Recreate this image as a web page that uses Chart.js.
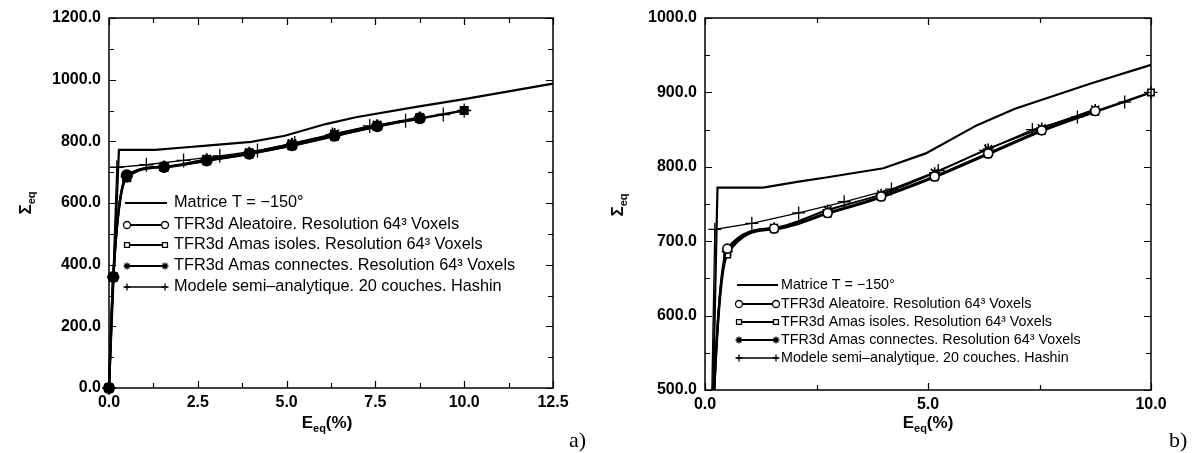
<!DOCTYPE html>
<html>
<head>
<meta charset="utf-8">
<script src="https://cdn.jsdelivr.net/npm/chart.js@4"></script>
<style>
  body { margin: 0; background: #fff; }
  #wrap { position: relative; width: 1192px; height: 453px; }
  .panel { position: absolute; top: 0; }
</style>
</head>
<body>
<div id="wrap">
  <div class="panel" style="left:0"><canvas id="chartA" width="600" height="453"></canvas></div>
  <div class="panel" style="left:600px"><canvas id="chartB" width="592" height="453"></canvas></div>
</div>
<script>
// strain (%) / stress values
const matriceX = [0, 0.28, 1.3, 2.1, 2.75, 4.0, 4.95, 6.1, 6.95, 8.65, 10.0, 12.5];
const matriceY = [0, 772, 772, 780, 786, 798, 818, 856, 878, 912, 937, 987];

const aleatoireX = [0, 0.12, 0.5, 1.55, 2.75, 3.95, 5.15, 6.35, 7.55, 8.75];
const aleatoireY = [0, 360, 690, 717, 738, 760, 787, 818, 849, 875];

const isolesX = [0, 0.12, 0.5, 1.55, 2.75, 3.95, 5.15, 6.35, 7.55, 8.75, 10.0];
const isolesY = [0, 360, 682, 716, 737, 759, 786, 817, 848, 874, 900];

const connectesX = [0, 0.12, 0.5, 1.55, 2.75, 3.95, 5.15, 6.35, 7.55, 8.75];
const connectesY = [0, 360, 686, 718, 742, 763, 792, 824, 852, 877];

const hashinX = [0, 0.22, 1.05, 2.1, 3.12, 4.18, 5.23, 6.29, 7.34, 8.35, 9.41, 10.0];
const hashinY = [0, 716, 724, 738, 753, 770, 795, 822, 850, 867, 887, 900];

const seriesLabels = [
    "Matrice T = \u2212150\u00B0",
    "TFR3d Aleatoire. Resolution 64\u00B3 Voxels",
    "TFR3d Amas isoles. Resolution 64\u00B3 Voxels",
    "TFR3d Amas connectes. Resolution 64\u00B3 Voxels",
    "Modele semi\u2013analytique. 20 couches. Hashin"
];

// axis ranges: [min, max, tick step, label step]
const axisA_x = [0, 12.5, 1.25, 2.5];
const axisA_y = [0, 1200, 100, 200];
const axisB_x = [0, 10, 2.5, 5];
const axisB_y = [500, 1000, 50, 100];

const FONT = "'Liberation Sans', Arial, sans-serif";

function pts(xs, ys) {
    return xs.map((x, i) => ({ x: x, y: ys[i] }));
}

function isMajor(v, step) {
    const r = v / step;
    return Math.abs(r - Math.round(r)) < 1e-6;
}

// frame, inward ticks, axis titles with subscripts, legend, panel letter
const decor = {
    id: "decor",
    afterDraw(chart, args, o) {
        const { ctx, chartArea: a } = chart;
        const xs = chart.scales.x, ys = chart.scales.y;
        ctx.save();
        ctx.strokeStyle = "#000";
        ctx.fillStyle = "#000";
        ctx.lineWidth = 1.5;
        ctx.strokeRect(a.left, a.top, a.width, a.height);

        ctx.lineWidth = 1.2;
        ctx.beginPath();
        xs.ticks.forEach(t => {
            const p = Math.round(xs.getPixelForValue(t.value)) + 0.5;
            const len = t.label ? 7 : 5;
            ctx.moveTo(p, a.bottom); ctx.lineTo(p, a.bottom - len);
            ctx.moveTo(p, a.top); ctx.lineTo(p, a.top + len);
        });
        ys.ticks.forEach(t => {
            const p = Math.round(ys.getPixelForValue(t.value)) + 0.5;
            const len = t.label ? 7 : 5;
            ctx.moveTo(a.left, p); ctx.lineTo(a.left + len, p);
            ctx.moveTo(a.right, p); ctx.lineTo(a.right - len, p);
        });
        ctx.stroke();

        // x title: E_eq(%)
        ctx.textBaseline = "alphabetic";
        ctx.textAlign = "left";
        const big = "bold 17px " + FONT, small = "bold 11px " + FONT;
        ctx.font = big;
        const wE = ctx.measureText("E").width, wP = ctx.measureText("(%)").width;
        ctx.font = small;
        const wS = ctx.measureText("eq").width;
        let x0 = o.xTitle[0] - (wE + wS + wP) / 2;
        const by = o.xTitle[1];
        ctx.font = big; ctx.fillText("E", x0, by);
        ctx.font = small; ctx.fillText("eq", x0 + wE, by + 4);
        ctx.font = big; ctx.fillText("(%)", x0 + wE + wS, by);

        // y title: Sigma_eq rotated
        ctx.save();
        ctx.translate(o.yTitle[0], o.yTitle[1]);
        ctx.rotate(-Math.PI / 2);
        ctx.font = big;
        const wSig = ctx.measureText("\u03A3").width;
        ctx.font = small;
        const wEq = ctx.measureText("eq").width;
        const sx = -(wSig + wEq) / 2;
        ctx.font = big; ctx.fillText("\u03A3", sx, 6);
        ctx.font = small; ctx.fillText("eq", sx + wSig, 10);
        ctx.restore();

        // legend
        const L = o.legend;
        const styles = [null, "circle", "rect", "star", "cross"];
        const widths = [2.2, 2.2, 2.2, 2.2, 1.3];
        ctx.font = L.font + "px " + FONT;
        ctx.textBaseline = "middle";
        seriesLabels.forEach((lab, i) => {
            const yy = L.rows[i];
            ctx.lineWidth = widths[i];
            ctx.beginPath();
            ctx.moveTo(L.x0, yy); ctx.lineTo(L.x1, yy);
            ctx.stroke();
            if (styles[i]) {
                ctx.lineWidth = 1.3;
                ctx.fillStyle = "#fff";
                [L.x0 + 2, L.x1 - 2].forEach(px => {
                    Chart.helpers.drawPoint(ctx, { pointStyle: styles[i], radius: L.r, rotation: 0, borderWidth: 1.3 }, px, yy);
                });
                ctx.fillStyle = "#000";
            }
            ctx.fillText(lab, L.tx, yy);
        });

        // panel letter
        ctx.font = "22px 'Liberation Serif', 'DejaVu Serif', serif";
        ctx.textBaseline = "alphabetic";
        ctx.fillText(o.letter[0], o.letter[1], o.letter[2]);
        ctx.restore();
    }
};

function buildChart(id, ax, ay, box, marker, clip, decorOpts) {
    const tickFont = { family: FONT, size: 16, weight: "bold" };
    const base = (lw, style, r) => ({
        borderColor: "#000",
        borderWidth: lw,
        pointStyle: style,
        pointRadius: r,
        pointBorderColor: "#000",
        pointBackgroundColor: marker.fill,
        pointBorderWidth: marker.bw,
        clip: clip
    });
    return new Chart(document.getElementById(id), {
        type: "line",
        data: {
            datasets: [
                Object.assign(base(2.2, "circle", 0), { label: seriesLabels[0], data: pts(matriceX, matriceY) }),
                Object.assign(base(2.4, "circle", marker.r), { label: seriesLabels[1], data: pts(aleatoireX, aleatoireY), cubicInterpolationMode: "monotone" }),
                Object.assign(base(2.4, "rect", marker.r), { label: seriesLabels[2], data: pts(isolesX, isolesY), cubicInterpolationMode: "monotone" }),
                Object.assign(base(2.0, "star", marker.r + 1), { label: seriesLabels[3], data: pts(connectesX, connectesY), cubicInterpolationMode: "monotone" }),
                Object.assign(base(1.3, "cross", marker.r + 2), { label: seriesLabels[4], data: pts(hashinX, hashinY), pointBorderWidth: 1.3 })
            ]
        },
        options: {
            responsive: false,
            animation: false,
            devicePixelRatio: 1,
            layout: { padding: { left: 0, top: box.top, right: box.right, bottom: 0 } },
            plugins: { legend: { display: false }, tooltip: { enabled: false }, decor: decorOpts },
            scales: {
                x: {
                    type: "linear", min: ax[0], max: ax[1],
                    afterFit: s => { s.height = box.xh; },
                    grid: { display: false, drawTicks: false }, border: { display: false },
                    ticks: {
                        stepSize: ax[2], autoSkip: false, maxRotation: 0, padding: 5,
                        color: "#000", font: tickFont,
                        callback: v => isMajor(v, ax[3]) ? v.toFixed(1) : ""
                    }
                },
                y: {
                    type: "linear", min: ay[0], max: ay[1],
                    afterFit: s => { s.width = box.yw; },
                    grid: { display: false, drawTicks: false }, border: { display: false },
                    ticks: {
                        stepSize: ay[2], autoSkip: false, padding: 8,
                        color: "#000", font: tickFont,
                        callback: v => isMajor(v, ay[3]) ? v.toFixed(1) : ""
                    }
                }
            }
        },
        plugins: [decor]
    });
}

buildChart("chartA", axisA_x, axisA_y,
    { top: 18, right: 47, xh: 65, yw: 109 },
    { r: 5, fill: "#000", bw: 2 },
    false,
    {
        xTitle: [327, 428], yTitle: [25, 203], letter: ["a)", 569, 447],
        legend: { x0: 125, x1: 167, tx: 174, rows: [203, 225, 245, 266, 287], font: 16.3, r: 3.5 }
    });

buildChart("chartB", axisB_x, axisB_y,
    { top: 18, right: 41, xh: 63, yw: 105 },
    { r: 4.5, fill: "#fff", bw: 1.6 },
    { left: 5, top: 5, right: 8, bottom: 0 },
    {
        xTitle: [328, 428], yTitle: [17, 205], letter: ["b)", 569, 447],
        legend: { x0: 137, x1: 178, tx: 181, rows: [285, 304, 322, 340, 358], font: 14.3, r: 3.5 }
    });
</script>
</body>
</html>
